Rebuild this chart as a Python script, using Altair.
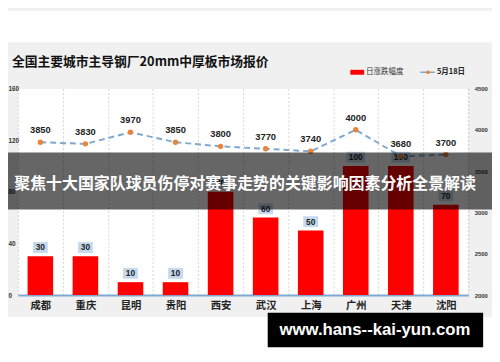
import altair as alt
import pandas as pd

# ---- data ----
cities = ["成都", "重庆", "昆明", "贵阳", "西安", "武汉", "上海", "广州", "天津", "沈阳"]
daily_change = [30, 30, 10, 10, 80, 60, 50, 100, 100, 70]
price_may18 = [3850, 3830, 3970, 3850, 3800, 3770, 3740, 4000, 3680, 3700]
left_ticks = [0, 40, 80, 120, 160]
right_ticks = [2000, 2500, 3000, 3500, 4000, 4500]

title_text = "全国主要城市主导钢厂20mm中厚板市场报价"
legend_bar = "日涨跌幅度"
legend_line = "5月18日"
banner_text = "聚焦十大国家队球员伤停对赛事走势的关键影响因素分析全景解读"
watermark_text = "www.hans--kai-yun.com"

df = pd.DataFrame({"city": cities, "v": daily_change, "p": price_may18})
one = pd.DataFrame({"k": [0]})

CJK = "Noto Sans CJK SC"
NUM = "Liberation Sans"
W, H = 458, 210

xenc = alt.X(
    "city:N", sort=cities,
    scale=alt.Scale(paddingInner=0, paddingOuter=0),
    axis=alt.Axis(
        title=None, labelAngle=0, labelFont=CJK, labelFontSize=10.5,
        labelFontWeight="bold", labelColor="#222", labelPadding=6,
        ticks=False, domainColor="#7ea9d1", domainWidth=2,
        grid=True, tickBand="extent", gridColor="#d2d2d2",
        gridDash=[2, 2], gridWidth=1,
    ),
)

yb = alt.Y(
    "v:Q", scale=alt.Scale(domain=[0, 160], nice=False),
    axis=alt.Axis(
        title=None, orient="left", values=left_ticks, grid=False, ticks=False,
        domain=False, labelAlign="left", labelPadding=10, labelFontSize=6.5,
        labelFontWeight="bold", labelColor="#333", labelFont=NUM, format="d",
    ),
)

yr = alt.Y(
    "p:Q", scale=alt.Scale(domain=[2000, 4500], nice=False, zero=False),
    axis=alt.Axis(
        title=None, orient="right", values=right_ticks, grid=False, ticks=False,
        domain=False, labelAlign="left", labelPadding=6, labelFontSize=6,
        labelFontWeight="bold", labelColor="#333", labelFont=NUM, format="d",
    ),
)

# ---- background strips (outside plot area) ----
top_strip = alt.Chart(one).mark_rect(color="white").encode(
    x=alt.value(-10), x2=alt.value(482), y=alt.value(-79), y2=alt.value(-47))
bottom_strip = alt.Chart(one).mark_rect(color="white").encode(
    x=alt.value(-10), x2=alt.value(482), y=alt.value(232), y2=alt.value(270))

title = alt.Chart(one).mark_text(
    text=title_text, font=CJK, fontSize=13, fontWeight="bold", color="#111",
    align="left", baseline="middle").encode(x=alt.value(-6), y=alt.value(-26.5))

leg_rect = alt.Chart(one).mark_rect(color="#ff0000").encode(
    x=alt.value(338), x2=alt.value(352), y=alt.value(-19), y2=alt.value(-14))
leg_text1 = alt.Chart(one).mark_text(
    text=legend_bar, font=CJK, fontSize=7.6, color="#333", align="left",
    baseline="middle").encode(x=alt.value(354), y=alt.value(-16.5))
leg_line = alt.Chart(one).mark_rule(color="#7fa8d0", strokeWidth=1.5).encode(
    x=alt.value(409), x2=alt.value(424), y=alt.value(-16.5))
leg_dot = alt.Chart(one).mark_circle(color="#e8843c", size=14, opacity=1).encode(
    x=alt.value(417), y=alt.value(-16.5))
leg_text2 = alt.Chart(one).mark_text(
    text=legend_line, font=CJK, fontSize=7.6, fontWeight="bold", color="#222",
    align="left", baseline="middle").encode(x=alt.value(426), y=alt.value(-16.5))
right_grid = alt.Chart(one).mark_rule(color="#d2d2d2", strokeDash=[2, 2]).encode(
    x=alt.value(W), y=alt.value(0), y2=alt.value(H))

# ---- bar group ----
bars = alt.Chart(df).mark_bar(size=26, color="#ff0000").encode(x=xenc, y=yb)
boxes = alt.Chart(df).transform_calculate(
    box="datum.v >= 100 ? 'M-1,-0.58L1,-0.58L1,0.58L-1,0.58Z' : 'M-0.79,-0.58L0.79,-0.58L0.79,0.58L-0.79,0.58Z'"
).mark_point(filled=True, color="#c5d9ee", opacity=1, size=361, yOffset=-9,
             strokeWidth=0).encode(x=xenc, y=yb, shape=alt.Shape("box:N", scale=None))
bar_text = alt.Chart(df).mark_text(
    font=NUM, fontSize=8.5, fontWeight="bold", color="#222", yOffset=-9,
    baseline="middle").encode(x=xenc, y=yb, text="v:Q")
bar_group = alt.layer(bars, boxes, bar_text)

# ---- line group ----
line = alt.Chart(df).mark_line(color="#7fa8d0", strokeWidth=2, strokeDash=[6, 4]).encode(x=xenc, y=yr)
pts = alt.Chart(df).mark_circle(color="#e8843c", size=30, opacity=1).encode(x=xenc, y=yr)
pt_text = alt.Chart(df).mark_text(
    font=NUM, fontSize=9.5, fontWeight="bold", color="#222", yOffset=-12,
    baseline="middle").encode(x=xenc, y=yr, text=alt.Text("p:Q", format="d"))
line_group = alt.layer(line, pts, pt_text)

# ---- overlays ----
banner = alt.Chart(one).mark_rect(color="black", opacity=0.6).encode(
    x=alt.value(-10), x2=alt.value(482), y=alt.value(65), y2=alt.value(123))
banner_txt = alt.Chart(one).mark_text(
    text=banner_text, font=CJK, fontSize=16.2, fontWeight="bold", color="white",
    align="center", baseline="middle").encode(x=alt.value(231), y=alt.value(97))
wm = alt.Chart(one).mark_rect(color="black").encode(
    x=alt.value(254), x2=alt.value(473), y=alt.value(228), y2=alt.value(263))
wm_txt = alt.Chart(one).mark_text(
    text=watermark_text, font=NUM, fontSize=17, fontWeight="bold", color="white",
    align="center", baseline="middle").encode(x=alt.value(363), y=alt.value(246))

chart = alt.layer(
    top_strip, bottom_strip, title, leg_rect, leg_text1, leg_line, leg_dot, leg_text2,
    right_grid, bar_group, line_group, banner, banner_txt, wm, wm_txt,
).resolve_scale(y="independent").properties(
    width=W, height=H, background="#f0f0f0",
    padding={"left": 10, "top": 79, "right": 24, "bottom": 53},
    autosize=alt.AutoSizeParams(type="none"),
).configure_view(fill="white", stroke="transparent")

chart.save("out.html", embed_options={"renderer": "svg", "actions": False})
